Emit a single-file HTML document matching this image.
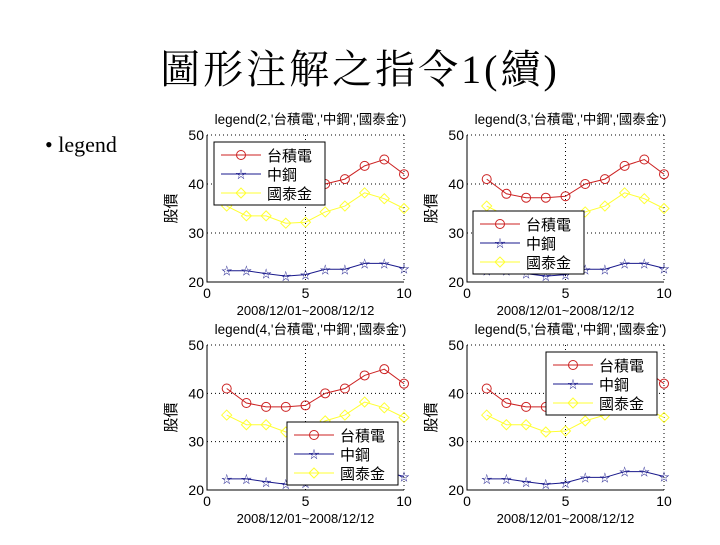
<!DOCTYPE html>
<html><head><meta charset="utf-8"><style>
html,body{margin:0;padding:0;background:#fff;}
body{width:720px;height:540px;overflow:hidden;position:relative;font-family:"Liberation Sans","Noto Sans CJK TC",sans-serif;}
</style></head><body>
<svg id="root" width="720" height="540" xmlns="http://www.w3.org/2000/svg">
<text x="360" y="83" text-anchor="middle" font-family="'Liberation Serif','Noto Serif CJK SC',serif" font-size="40" letter-spacing="3">圖形注解之指令1(續)</text>
<text x="45" y="152" font-family="'Liberation Serif',serif" font-size="22">• legend</text>
</svg>
<script>
const xValues=[1,2,3,4,5,6,7,8,9,10];
const tsmc=[41,38,37.2,37.2,37.5,40,41,43.7,45,42];
const steel=[22.3,22.3,21.7,21.2,21.5,22.6,22.6,23.8,23.8,22.8];
const cathay=[35.5,33.5,33.5,32,32.2,34.3,35.5,38.2,37,35];
const seriesNames=['台積電','中鋼','國泰金'];
const xTicks=[0,5,10];
const yTicks=[20,30,40,50];
const panelLocs=[2,3,4,5];
const svg=document.getElementById('root');
const NS='http://www.w3.org/2000/svg';
function mk(tag,attrs,parent){const e=document.createElementNS(NS,tag);for(const k in attrs)e.setAttribute(k,attrs[k]);(parent||svg).appendChild(e);return e;}
const panels=[
 {x0:207,x1:404,y0:135,y1:282,lg:[214,142]},
 {x0:467,x1:664,y0:135,y1:282,lg:[473,211]},
 {x0:207,x1:404,y0:345,y1:490,lg:[287,422]},
 {x0:467,x1:664,y0:345,y1:490,lg:[546,352]}];
const colors=['#cc2222','#1a1a8c','#ffff33'];
function marker(g,type,x,y,c){
 if(type===0){const m=mk('circle',{cx:x,cy:y,r:4.5,fill:'none',stroke:c,'stroke-width':1},g);}
 else if(type===1){const m=mk('text',{x:x,y:y+4,'text-anchor':'middle','font-size':11,fill:c},g);m.textContent='☆';}
 else{const m=mk('path',{d:`M${x} ${y-5}L${x+5} ${y}L${x} ${y+5}L${x-5} ${y}Z`,fill:'none',stroke:c,'stroke-width':1},g);}
}
panels.forEach((p,i)=>{
 const g=mk('g',{});
 
 
 const sx=v=>p.x0+(v-xTicks[0])/(xTicks[xTicks.length-1]-xTicks[0])*(p.x1-p.x0);
 const sy=v=>p.y1-(v-yTicks[0])/(yTicks[yTicks.length-1]-yTicks[0])*(p.y1-p.y0);
 const t=mk('text',{x:(p.x0+p.x1)/2+5,y:p.y0-11,'text-anchor':'middle','font-size':13.5},g);
 t.textContent=`legend(${panelLocs[i]},'台積電','中鋼','國泰金')`;
 
 xTicks.slice(1).forEach(v=>{const l=mk('line',{x1:sx(v),x2:sx(v),y1:p.y0,y2:p.y1,stroke:'#000','stroke-dasharray':'1,3','stroke-width':1},g);});
 yTicks.slice(1).forEach(v=>{const l=mk('line',{x1:p.x0,x2:p.x1,y1:sy(v),y2:sy(v),stroke:'#000','stroke-dasharray':'1,3','stroke-width':1},g);});
 const ax=mk('path',{d:`M${p.x0} ${p.y0}V${p.y1}H${p.x1}`,fill:'none',stroke:'#000','stroke-width':1},g);
 
 xTicks.forEach(v=>{const tx=mk('text',{x:sx(v),y:p.y1+16,'text-anchor':'middle','font-size':14},g);tx.textContent=v;});
 yTicks.forEach(v=>{const tx=mk('text',{x:p.x0-3,y:sy(v)+5,'text-anchor':'end','font-size':14},g);tx.textContent=v;});
 const xl=mk('text',{x:(p.x0+p.x1)/2,y:p.y1+33,'text-anchor':'middle','font-size':13},g);xl.textContent='2008/12/01~2008/12/12';
 
 const yl=mk('text',{x:0,y:0,'text-anchor':'middle','font-size':15,transform:`translate(${p.x0-31},${(p.y0+p.y1)/2}) rotate(-90)`},g);yl.textContent='股價';
 
 [tsmc,steel,cathay].forEach((s,k)=>{
  const d=s.map((v,j)=>(j?'L':'M')+sx(xValues[j])+' '+sy(v)).join('');
  const pl=mk('path',{d:d,fill:'none',stroke:colors[k],'stroke-width':1},g);
  
  s.forEach((v,j)=>marker(g,k,sx(xValues[j]),sy(v),colors[k]));
 });
 const lg=mk('g',{},g);
 
 const [lx,ly]=p.lg;
 mk('rect',{x:lx,y:ly,width:111,height:63,fill:'#fff',stroke:'#000','stroke-width':1},lg);
 seriesNames.forEach((n,k)=>{
  const yy=ly+13+k*19;
  const le=mk('g',{},lg);
  
  mk('line',{x1:lx+7,x2:lx+47,y1:yy,y2:yy,stroke:colors[k],'stroke-width':1},le);
  marker(le,k,lx+27,yy,colors[k]);
  const tx=mk('text',{x:lx+53,y:yy+6,'font-size':15},le);tx.textContent=n;
 });
});
</script>
</body></html>
